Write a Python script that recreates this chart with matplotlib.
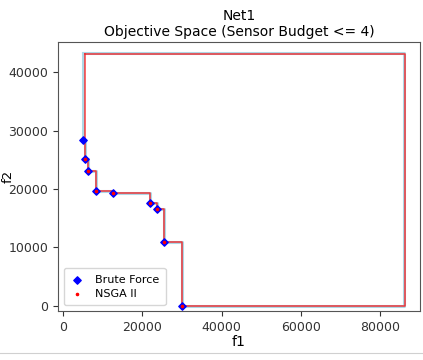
import matplotlib
matplotlib.use("Agg")
import matplotlib.pyplot as plt
from matplotlib.lines import Line2D

# Brute force Pareto points
bf_f1 = [5100, 5650, 6400, 8300, 12700, 21900, 23600, 25550, 30000]
bf_f2 = [28400, 25100, 23100, 19700, 19250, 17550, 16500, 11000, 0]
bf_ref = (86000, 43400)

# NSGA II Pareto points
ns_f1 = [5650, 6400, 8300, 12700, 21900, 23600, 25550, 30000]
ns_f2 = [25100, 23100, 19700, 19250, 17550, 16500, 11000, 0]
ns_ref = (86300, 43200)

title = "Net1\nObjective Space (Sensor Budget <= 4)"

fig = plt.figure(figsize=(4.23, 3.6), dpi=100)
ax = fig.add_axes([58/423, 49/360, 362/423, 269/360])


def closed_path(xs, ys, ref):
    px = [xs[0]] + list(xs) + [ref[0], xs[0]]
    py = [ref[1]] + list(ys) + [ref[1], ref[1]]
    return px, py


bx, by = closed_path(bf_f1, bf_f2, bf_ref)
nx, ny = closed_path(ns_f1, ns_f2, ns_ref)

ax.plot(bx, by, drawstyle="steps-post", color="lightblue", lw=2.2, zorder=2)
ax.plot(nx, ny, drawstyle="steps-post", color="red", lw=1.1, alpha=0.75, zorder=3)

ax.scatter(bf_f1, bf_f2, marker="D", s=14, color="blue", label="Brute Force", zorder=4)
ax.scatter(ns_f1, ns_f2, marker=".", s=10, color="red", label="NSGA II", zorder=5)

ax.set_xlim(-1260, 90050)
ax.set_ylim(-910, 45200)
ax.set_xticks([0, 20000, 40000, 60000, 80000])
ax.set_yticks([0, 10000, 20000, 30000, 40000])
ax.tick_params(labelsize=9, colors="#333333")
for s in ax.spines.values():
    s.set_color("#555555")
ax.set_xlabel("f1", fontsize=10, labelpad=1)
ax.set_ylabel("f2", fontsize=9.5)
ax.yaxis.set_label_coords(-0.12, 0.5)
ax.set_title(title, fontsize=10, pad=4)
ax.legend(loc="lower left", fontsize=8, borderpad=0.6, handlelength=1.2,
          handletextpad=1.0, labelspacing=0.35)

fig.add_artist(Line2D([0, 1], [7/360, 7/360], color="#d0d0d0", lw=0.8, transform=fig.transFigure))

fig.savefig("out.png", dpi=100)
